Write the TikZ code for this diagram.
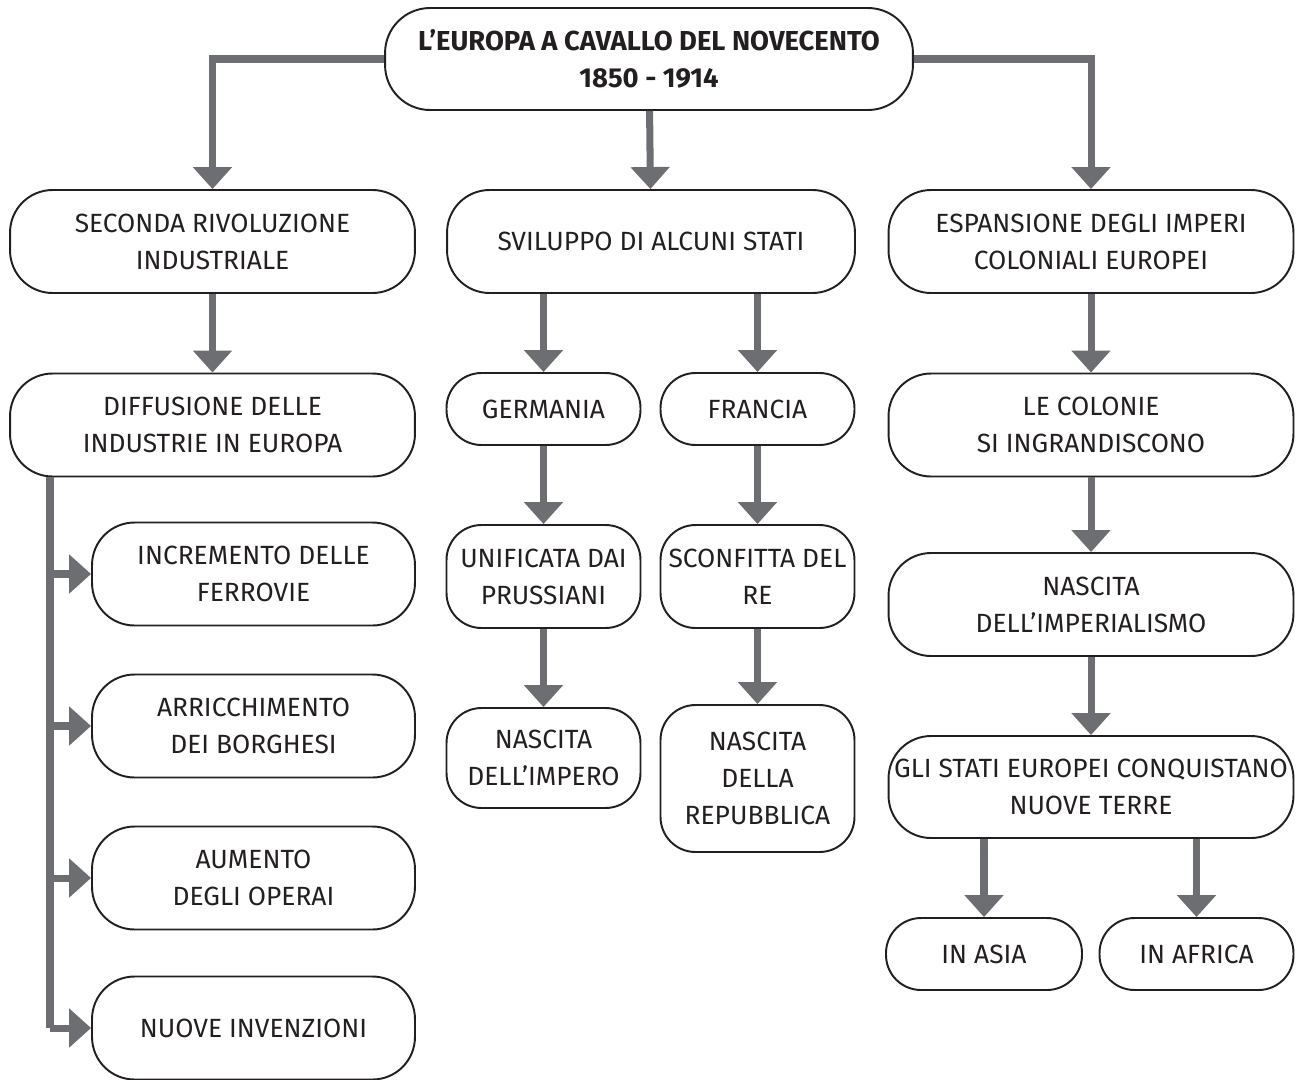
\documentclass[tikz,border=0pt]{standalone}
\usepackage{fontspec}
\setmainfont{Fira Sans}
\usepackage{tikz}
\usetikzlibrary{arrows.meta, positioning}
\definecolor{arrgray}{HTML}{6D6E71}
\definecolor{txt}{HTML}{231F20}

\begin{document}
\begin{tikzpicture}[
  x=0.02cm, y=-0.02cm,
  box/.style={draw=txt, line width=1.1pt, rounded corners=0.85cm, inner sep=0pt,
              align=center, text=txt, font=\fontsize{15}{21}\selectfont},
  wide/.style={box, minimum width=8.1cm, minimum height=2.06cm},
  narrow/.style={box, rounded corners=0.7cm, minimum width=3.88cm, minimum height=2.06cm},
  short/.style={box, rounded corners=0.7cm, minimum width=3.88cm, minimum height=1.44cm},
  arr/.style={draw=arrgray, line width=4pt, -{Triangle[width=0.76cm,length=0.44cm]}},
  trunk/.style={draw=arrgray, line width=4pt}
]
  \useasboundingbox (0,0) rectangle (1298,1079);

  \node[box, rounded corners=0.9cm, minimum width=10.56cm, minimum height=2.04cm,
        font=\fontsize{15.6}{21}\selectfont\bfseries]
    (top) at (649,59) {L’EUROPA A CAVALLO DEL NOVECENTO\\1850 - 1914};

  % first row
  \node[wide] (sec)  at (212.5,241.5) {SECONDA RIVOLUZIONE\\INDUSTRIALE};
  \node[wide, minimum width=8.16cm] (svil) at (651,241.5) {SVILUPPO DI ALCUNI STATI};
  \node[wide] (esp)  at (1091,241.5) {ESPANSIONE DEGLI IMPERI\\COLONIALI EUROPEI};

  % left column
  \node[wide] (diff) at (212.5,425) {DIFFUSIONE DELLE\\INDUSTRIE IN EUROPA};
  \node[wide, minimum width=6.46cm] (incr)  at (253.5,574)  {INCREMENTO DELLE\\FERROVIE};
  \node[wide, minimum width=6.46cm] (arric) at (253.5,726)  {ARRICCHIMENTO\\DEI BORGHESI};
  \node[wide, minimum width=6.46cm] (aum)   at (253.5,878)  {AUMENTO\\DEGLI OPERAI};
  \node[wide, minimum width=6.46cm] (nuove) at (253.5,1028) {NUOVE INVENZIONI};

  % middle column
  \node[short] (germ) at (543.5,409) {GERMANIA};
  \node[short] (fran) at (757.5,409) {FRANCIA};
  \node[narrow] (unif) at (543.5,576.5) {UNIFICATA DAI\\PRUSSIANI};
  \node[narrow] (scon) at (757.5,576.5) {SCONFITTA DEL\\RE};
  \node[narrow, minimum height=2cm] (nimp) at (543.5,758) {NASCITA\\DELL’IMPERO};
  \node[narrow, minimum height=2.94cm] (nrep) at (757.5,778.5) {NASCITA\\DELLA\\REPUBBLICA};

  % right column
  \node[wide] (col)   at (1091,425)   {LE COLONIE\\SI INGRANDISCONO};
  \node[wide] (nimpl) at (1091,604.5) {NASCITA\\DELL’IMPERIALISMO};
  \node[wide, minimum height=2.04cm] (gli) at (1091,787) {GLI STATI EUROPEI CONQUISTANO\\NUOVE TERRE};
  \node[short, minimum width=3.92cm] (asia) at (984,954)    {IN ASIA};
  \node[short] (afr)  at (1196.5,954) {IN AFRICA};

  % connectors
  \draw[arr] (top.west) -| (sec);
  \draw[arr] (top) -- (svil);
  \draw[arr] (top.east) -| (esp);

  \draw[arr] (sec) -- (diff);
  \coordinate (t1) at (50,574);
  \coordinate (t2) at (50,726);
  \coordinate (t3) at (50,878);
  \coordinate (t4) at (50,1028);
  \draw[trunk] (diff.south -| t1) -- (t4);
  \foreach \t/\b in {t1/incr, t2/arric, t3/aum, t4/nuove}
    \draw[arr] (\t) -- (\b);

  \draw[arr] (svil.south -| germ) -- (germ);
  \draw[arr] (svil.south -| fran) -- (fran);
  \draw[arr] (germ) -- (unif);
  \draw[arr] (fran) -- (scon);
  \draw[arr] (unif) -- (nimp);
  \draw[arr] (scon) -- (nrep);

  \draw[arr] (esp) -- (col);
  \draw[arr] (col) -- (nimpl);
  \draw[arr] (nimpl) -- (gli);
  \draw[arr] (gli.south -| asia) -- (asia);
  \draw[arr] (gli.south -| afr) -- (afr);
\end{tikzpicture}
\end{document}
